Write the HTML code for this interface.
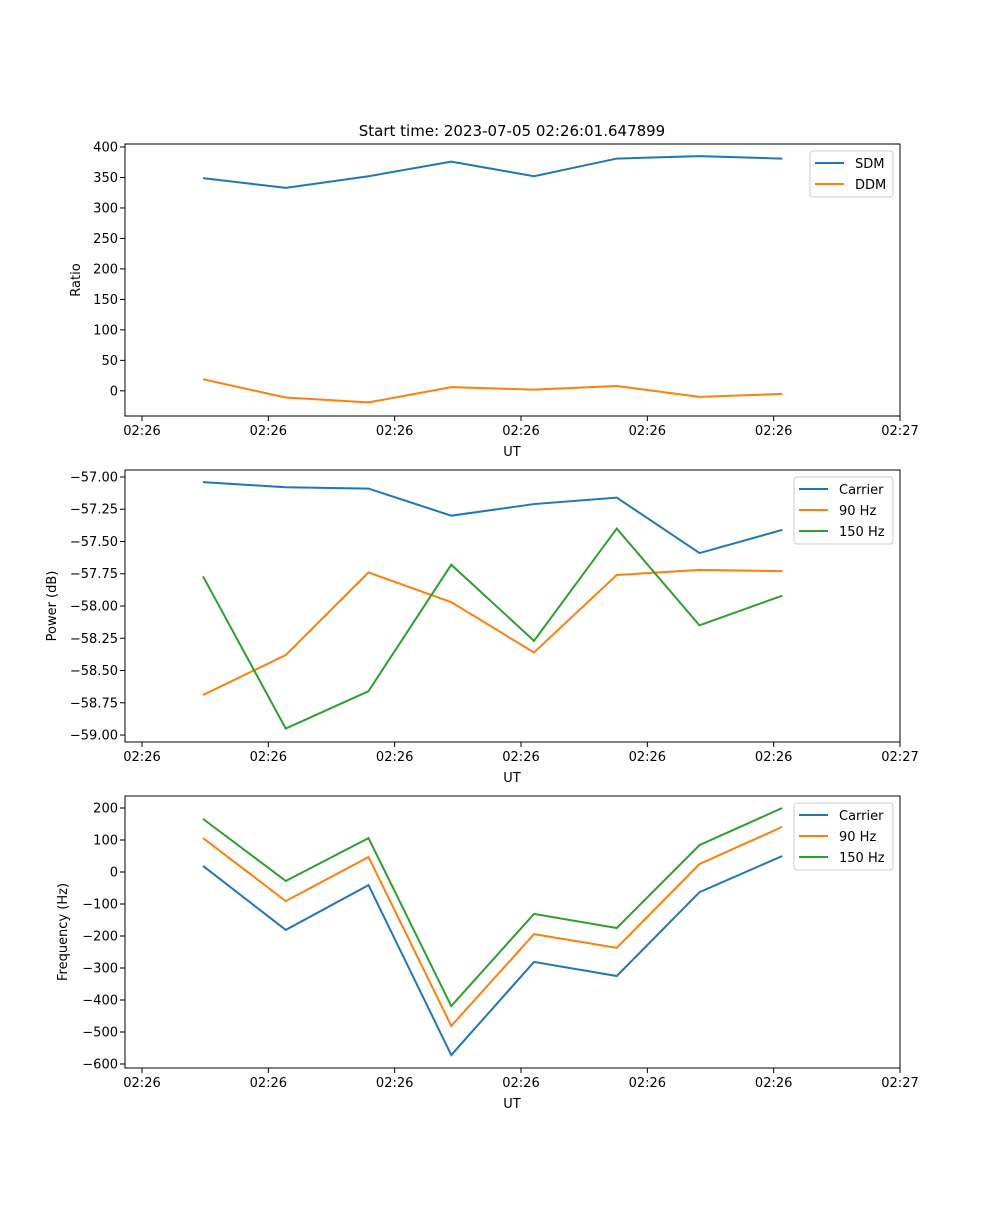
<!DOCTYPE html>
<html><head><meta charset="utf-8"><style>
body{margin:0;background:#fff;}
svg text{font-family:"DejaVu Sans","Liberation Sans",sans-serif;font-size:13px;fill:#000;}
</style></head><body>
<svg id="chart" width="1000" height="1200" xmlns="http://www.w3.org/2000/svg"></svg>
<script>
const times=[4.83,11.38,17.93,24.48,31.03,37.58,44.13,50.68];
const xTicks=[0,10,20,30,40,50,60];
const xTickLabels=["02:26","02:26","02:26","02:26","02:26","02:26","02:27"];
const sdm=[349,333,352,376,352,381,385,381];
const ddm=[19,-11,-19,6,2,8,-10,-5];
const ratioTicks=[0,50,100,150,200,250,300,350,400];
const powCarrier=[-57.04,-57.08,-57.09,-57.30,-57.21,-57.16,-57.59,-57.41];
const pow90=[-58.69,-58.38,-57.74,-57.97,-58.36,-57.76,-57.72,-57.73];
const pow150=[-57.77,-58.95,-58.66,-57.68,-58.27,-57.40,-58.15,-57.92];
const powTicks=[-59.0,-58.75,-58.5,-58.25,-58.0,-57.75,-57.5,-57.25,-57.0];
const freqCarrier=[19,-181,-41,-572,-281,-325,-63,50];
const freq90=[106,-91,47,-481,-194,-237,25,141];
const freq150=[166,-28,106,-419,-131,-175,84,200];
const freqTicks=[-600,-500,-400,-300,-200,-100,0,100,200];

const svg=document.getElementById('chart');
const NS='http://www.w3.org/2000/svg';
function el(tag,attrs,parent){const e=document.createElementNS(NS,tag);for(const k in attrs)e.setAttribute(k,attrs[k]);(parent||svg).appendChild(e);return e;}
const L=125,R=900;
function xs(t){return 142+(t-0)*(900-142)/60;}
const BLUE='#1f77b4',ORANGE='#ff7f0e',GREEN='#2ca02c';

function panel(name,top,bottom,ymin,ymax,yTicks,fmt,ylabel,series,legendBox){
  const g=el('g',{});
  
  
  const ys=v=>bottom-(v-ymin)*(bottom-top)/(ymax-ymin);
  series.forEach(s=>{
    const p=el('polyline',{points:s.vals.map((v,i)=>xs(times[i])+','+ys(v)).join(' '),fill:'none',stroke:s.color,'stroke-width':2},g);
    
    
  });
  const fr=el('rect',{x:L,y:top,width:R-L,height:bottom-top,fill:'none',stroke:'#000','stroke-width':1},g);
  
  
  xTicks.forEach((t,i)=>{
    const x=xs(t);
    el('line',{x1:x,y1:bottom,x2:x,y2:bottom+5,stroke:'#000'},g);
    const tx=el('text',{x:x,y:bottom+19,'text-anchor':'middle'},g);tx.textContent=xTickLabels[i];
    
    
  });
  yTicks.forEach(v=>{
    const y=ys(v);
    el('line',{x1:L-5,y1:y,x2:L,y2:y,stroke:'#000'},g);
    const tx=el('text',{x:L-7,y:y+4.5,'text-anchor':'end'},g);tx.textContent=fmt(v);
    
    
  });
  const xl=el('text',{x:512,y:bottom+40,'text-anchor':'middle'},g);xl.textContent='UT';
  
  
  const yl=el('text',{x:0,y:0,'text-anchor':'middle',transform:'translate('+ylabel.x+','+((top+bottom)/2)+') rotate(-90)'},g);yl.textContent=ylabel.t;
  
  
  const lg=el('g',{},g);
  
  
  el('rect',{x:legendBox.x,y:legendBox.y,width:legendBox.w,height:series.length*21+4,rx:3,fill:'#fff',stroke:'#ccc'},lg);
  series.forEach((s,i)=>{
    const y=legendBox.y+12+i*21;
    el('line',{x1:legendBox.x+5,y1:y,x2:legendBox.x+34,y2:y,stroke:s.color,'stroke-width':2},lg);
    const t=el('text',{x:legendBox.x+45,y:y+5},lg);t.textContent=s.label;
    
    
  });
}
const title=el('text',{x:512,y:136,'text-anchor':'middle'});
title.textContent='Start time: 2023-07-05 02:26:01.647899';


title.style.fontSize='15px';

panel('ratio',144,416,-41.3,404.9,ratioTicks,v=>String(v),{x:80,t:'Ratio'},
 [{key:'sdm',label:'SDM',color:BLUE,vals:sdm},{key:'ddm',label:'DDM',color:ORANGE,vals:ddm}],{x:810,y:151,w:83});
panel('power',470,742,-59.054,-56.946,powTicks,v=>'\u2212'+Math.abs(v).toFixed(2),{x:56,t:'Power (dB)'},
 [{key:'carrier',label:'Carrier',color:BLUE,vals:powCarrier},{key:'90hz',label:'90 Hz',color:ORANGE,vals:pow90},{key:'150hz',label:'150 Hz',color:GREEN,vals:pow150}],{x:794,y:477,w:99});
panel('frequency',796,1068,-612.5,237.5,freqTicks,v=>(v<0?'\u2212':'')+Math.abs(v),{x:67,t:'Frequency (Hz)'},
 [{key:'carrier',label:'Carrier',color:BLUE,vals:freqCarrier},{key:'90hz',label:'90 Hz',color:ORANGE,vals:freq90},{key:'150hz',label:'150 Hz',color:GREEN,vals:freq150}],{x:794,y:803,w:99});
</script>
</body></html>
